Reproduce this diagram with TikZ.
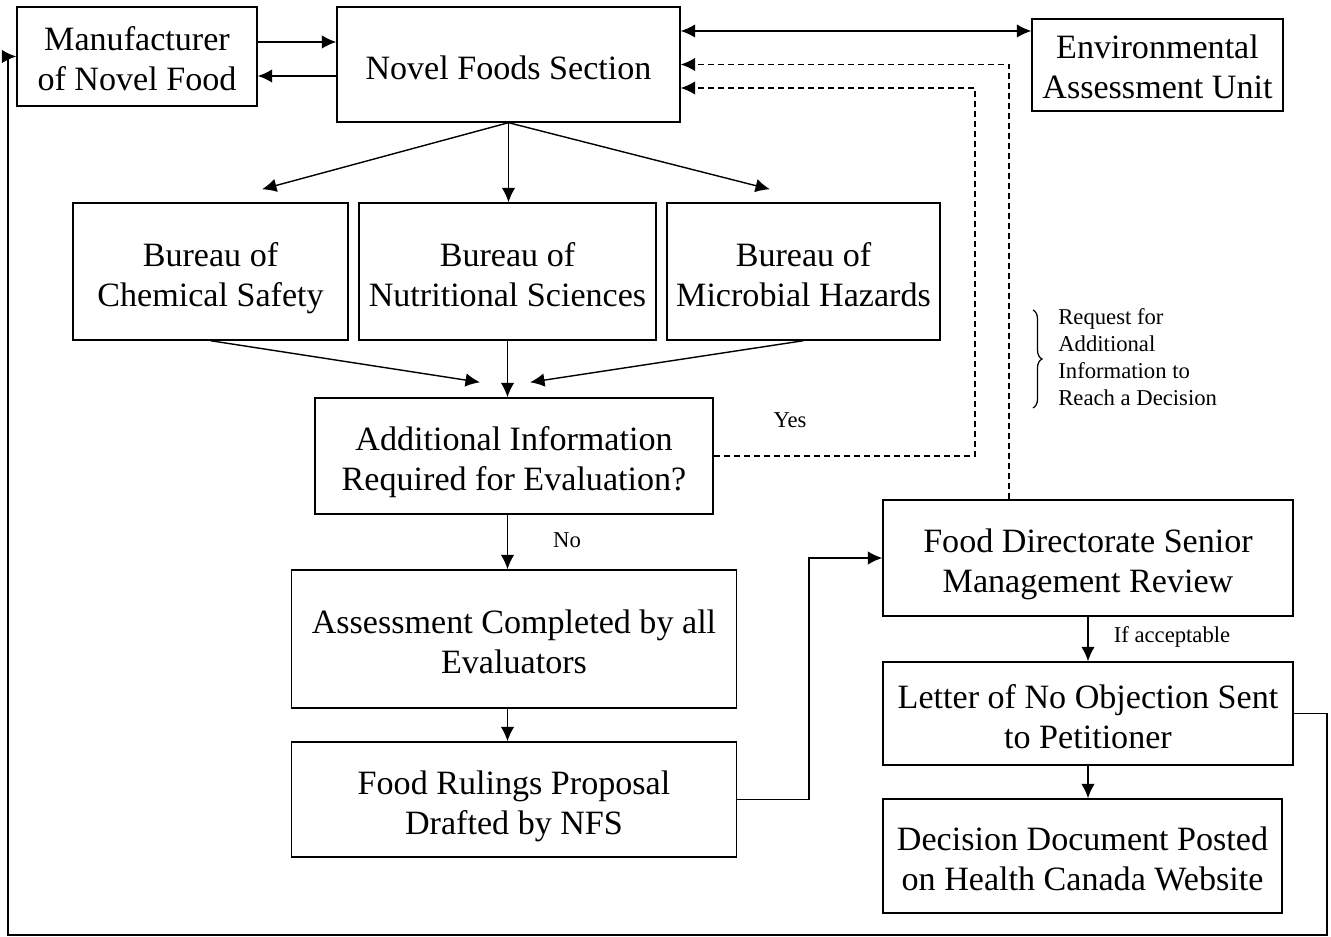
\documentclass[tikz,border=0pt]{standalone}
\usepackage{fontspec}
\setmainfont{Liberation Serif}
\usetikzlibrary{arrows.meta,decorations.pathreplacing}
\newcommand{\boxfont}{\fontsize{19.4}{22.8}\selectfont}
\newcommand{\notefont}{\fontsize{12.9}{15.4}\selectfont}
\begin{document}
\begin{tikzpicture}[
    box/.style={draw, line width=0.8pt, align=center, font=\boxfont, inner sep=2pt,
        execute at begin node={\rule{0pt}{#1}}, execute at end node=\strut},
    box/.default=1.64cm,
    note/.style={font=\notefont, inner sep=0pt},
    arr/.style={-{Latex[length=2.9mm,width=2.7mm]}, line width=0.8pt},
    dblarr/.style={{Latex[length=2.9mm,width=2.7mm]}-{Latex[length=2.9mm,width=2.7mm]}, line width=0.8pt},
    dasharr/.style={arr, dash pattern=on 1.2mm off 0.8mm} ]
    % --- Top row ---
    \node[box=1.6cm, minimum width=4.8cm, minimum height=1.98cm] (manu) at (2.74, 17.61) {Manufacturer\\of Novel Food};
    \node[box=0.84cm, minimum width=6.86cm, minimum height=2.3cm] (novel) at (10.17, 17.45) {Novel Foods Section};
    \node[box=1.6cm, inner ysep=0pt, minimum width=5.02cm, minimum height=1.84cm] (env) at (23.15, 17.44) {Environmental\\Assessment Unit};

    % --- Bureaus ---
    \node[box, minimum width=5.5cm, minimum height=2.74cm] (chem) at (4.21, 13.31) {Bureau of\\Chemical Safety};
    \node[box, minimum width=5.94cm, minimum height=2.74cm] (nutr) at (10.15, 13.31) {Bureau of\\Nutritional Sciences};
    \node[box, minimum width=5.46cm, minimum height=2.74cm] (micro) at (16.07, 13.31) {Bureau of\\Microbial Hazards};

    % --- Evaluation ---
    \node[box, minimum width=7.96cm, minimum height=2.32cm] (addl) at (10.28, 9.62) {Additional Information\\Required for Evaluation?};
    \node[box, minimum width=8.9cm, minimum height=2.76cm] (assess) at (10.28, 5.96) {Assessment Completed by all\\Evaluators};
    \node[box, minimum width=8.9cm, minimum height=2.3cm] (rulings) at (10.28, 2.75) {Food Rulings Proposal\\Drafted by NFS};

    % --- Decision ---
    \node[box, minimum width=8.2cm, minimum height=2.32cm] (fdsm) at (21.76, 7.58) {Food Directorate Senior\\Management Review};
    \node[box, minimum width=8.2cm, minimum height=2.06cm] (letter) at (21.76, 4.47) {Letter of No Objection Sent\\to Petitioner};
    \node[box, minimum width=7.98cm, minimum height=2.28cm] (decision) at (21.65, 1.62) {Decision Document Posted\\on Health Canada Website};

    % --- Labels ---
    \node[note] (yes) at (15.8, 10.34) {Yes};
    \node[note] (no) at (11.34, 7.94) {No};
    \node[note] (ifok) at (23.44, 6.0) {If acceptable};
    \node[note, anchor=west, align=left] (reqnote) at (21.16, 11.59) {Request for\\Additional\\Information to\\Reach a Decision};
    \draw[line width=0.7pt, decorate, decoration={brace, amplitude=0.18cm}] (20.66, 12.54) -- (20.66, 10.58);

    % --- Connectors ---
    \coordinate (yesbend) at (19.5, 16.98);
    \coordinate (rulebend) at (16.18, 2.75);
    \coordinate (loopR) at (26.54, 0.04);
    \coordinate (loopL) at (0.16, 0.04);

    \draw[arr] ([yshift=0.29cm]manu.east) -- ([yshift=0.29cm]manu.east -| novel.west);
    \draw[arr] ([yshift=-0.39cm]manu.east -| novel.west) -- ([yshift=-0.39cm]manu.east);
    \draw[dblarr] ([yshift=0.67cm]novel.east) -- ([yshift=0.67cm]novel.east -| env.west);

    \draw[arr] (novel.south) -- ([xshift=1.03cm, yshift=0.26cm]chem.north);
    \draw[arr] (novel.south) -- (novel.south |- nutr.north);
    \draw[arr] (novel.south) -- ([xshift=-0.67cm, yshift=0.26cm]micro.north);

    \draw[arr] (chem.south) -- ([xshift=-0.68cm, yshift=0.3cm]addl.north);
    \draw[arr] (nutr.south) -- (nutr.south |- addl.north);
    \draw[arr] (micro.south) -- ([xshift=0.32cm, yshift=0.3cm]addl.north);

    \draw[arr] (nutr.south |- addl.south) -- (nutr.south |- assess.north);
    \draw[arr] (nutr.south |- assess.south) -- (nutr.south |- rulings.north);
    \draw[dasharr] (addl.east) -| (yesbend) -- ([yshift=-0.47cm]novel.east);
    \draw[dasharr] ([xshift=-1.58cm]fdsm.north) |- (novel.east);

    \draw[arr] (rulings.east) -- (rulebend) |- (fdsm.west);
    \draw[arr] (fdsm.south) -- (letter.north);
    \draw[arr] (letter.south) -- (letter.south |- decision.north);
    \draw[arr] (letter.east) -| (loopR) -- (loopL) |- (manu.west);

    \useasboundingbox (0, 0) rectangle (26.62, 18.74);
\end{tikzpicture}
\end{document}
